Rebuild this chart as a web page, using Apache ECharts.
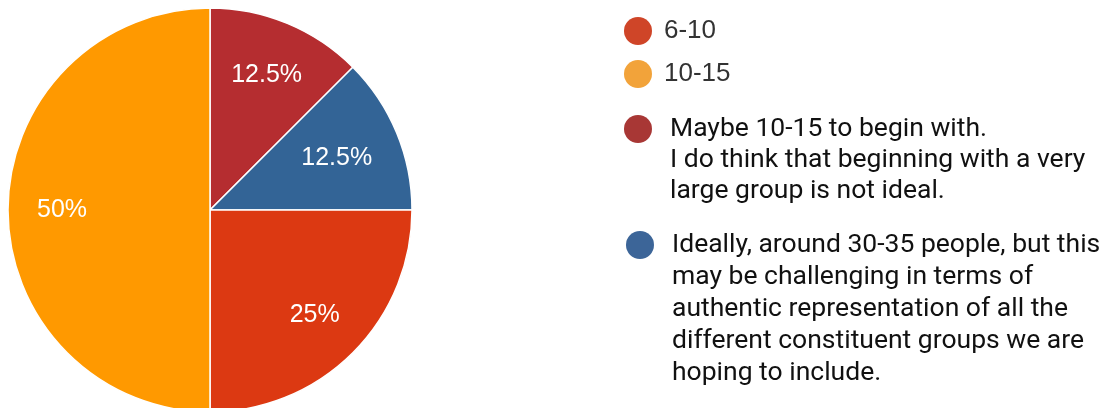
<!DOCTYPE html>
<html>
<head>
<meta charset="utf-8">
<script src="https://cdn.jsdelivr.net/npm/echarts@6/dist/echarts.min.js"></script>
<style>
html,body{margin:0;padding:0;background:#fff;}
#c{width:1105px;height:408px;}
</style>
</head>
<body>
<div id="c"></div>
<script>
// Data (order as drawn clockwise from 12 o'clock)
const categories = [
  "Maybe 10-15 to begin with.\nI do think that beginning with a very\nlarge group is not ideal.",
  "Ideally, around 30-35 people, but this\nmay be challenging in terms of\nauthentic representation of all the\ndifferent constituent groups we are\nhoping to include.",
  "6-10",
  "10-15"
];
const counts = [1, 1, 2, 4];
const sliceColors = ["#b52d30", "#336496", "#dc3912", "#ff9900"];
const legendColors = ["#a83735", "#3c6598", "#cf4528", "#f2a33a"];

const total = counts.reduce((a, b) => a + b, 0);
// small label nudges (styling only)
const labelNudge = { 1: [-10, 5], 0: [0, 2] };

const pieData = categories.map((n, i) => ({ name: n, value: counts[i], itemStyle: { color: sliceColors[i] } }));
const labelData = categories.map((n, i) => {
  const d = { name: n, value: counts[i] };
  if (labelNudge[i]) d.label = { offset: labelNudge[i] };
  return d;
});

function legendFor(idx, left, top, opts) {
  return Object.assign({
    orient: 'vertical',
    left: left,
    top: top,
    padding: 0,
    icon: 'circle',
    itemWidth: 42,
    itemHeight: 28,
    selectedMode: false,
    itemStyle: { borderWidth: 0 },
    data: [{ name: categories[idx], itemStyle: { color: legendColors[idx], borderWidth: 0 } }]
  }, opts);
}

// put the first text line level with the icon: prepend (lines-1) empty lines
function alignFirstLine(name) {
  const n = name.split('\n').length;
  return '\n'.repeat(n - 1) + name;
}

const shortText = { fontFamily: 'Liberation Sans, Arial, sans-serif', fontSize: 26, color: '#333' };

const chart = echarts.init(document.getElementById('c'), null, { renderer: 'canvas' });
chart.setOption({
  animation: false,
  backgroundColor: '#fff',
  legend: [
    legendFor(2, 624, 17, { textStyle: shortText }),
    legendFor(3, 624, 60, { textStyle: shortText }),
    legendFor(0, 624, 51.5, {
      itemWidth: 54,
      formatter: alignFirstLine,
      textStyle: { fontFamily: 'Roboto, sans-serif', fontSize: 26.5, color: '#111', lineHeight: 31 }
    }),
    legendFor(1, 626, 101, {
      itemWidth: 54,
      formatter: alignFirstLine,
      textStyle: { fontFamily: 'Roboto, sans-serif', fontSize: 26.5, color: '#111', lineHeight: 32 }
    })
  ],
  series: [
    {
      type: 'pie',
      center: [210, 210],
      radius: 202,
      startAngle: 90,
      clockwise: true,
      silent: true,
      label: { show: false },
      labelLine: { show: false },
      itemStyle: { borderColor: '#fff', borderWidth: 1.5 },
      data: pieData
    },
    {
      type: 'pie',
      center: [210, 210],
      radius: [88, 202],
      startAngle: 90,
      clockwise: true,
      silent: true,
      legendHoverLink: false,
      itemStyle: { color: 'rgba(0,0,0,0)', borderWidth: 0 },
      label: {
        show: true,
        position: 'inside',
        color: '#fff',
        fontFamily: 'Liberation Sans, Arial, sans-serif',
        fontSize: 25,
        formatter: p => (Math.round(p.value / total * 1000) / 10) + '%'
      },
      labelLine: { show: false },
      data: labelData
    }
  ]
});
</script>
</body>
</html>
